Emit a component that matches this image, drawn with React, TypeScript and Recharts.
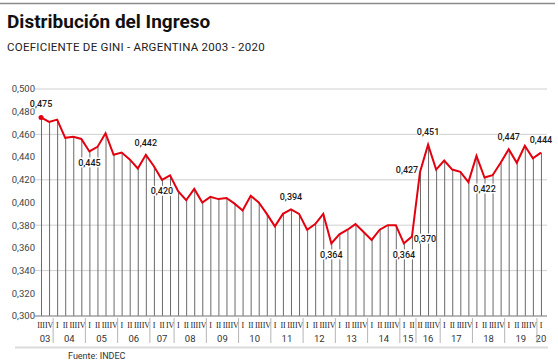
import { ComposedChart, Line, Bar, XAxis, YAxis, CartesianGrid, LabelList } from 'recharts';

// años y trimestres publicados (faltan 2007 III y 2015 III - 2016 I)
const yearLabels = ['03', '04', '05', '06', '07', '08', '09', '10', '11', '12', '13', '14', '15', '16', '17', '18', '19', '20'];
const quartersByYear = [
  ['III', 'IV'],
  ['I', 'II', 'III', 'IV'],
  ['I', 'II', 'III', 'IV'],
  ['I', 'II', 'III', 'IV'],
  ['I', 'II', 'IV'],
  ['I', 'II', 'III', 'IV'],
  ['I', 'II', 'III', 'IV'],
  ['I', 'II', 'III', 'IV'],
  ['I', 'II', 'III', 'IV'],
  ['I', 'II', 'III', 'IV'],
  ['I', 'II', 'III', 'IV'],
  ['I', 'II', 'III', 'IV'],
  ['I', 'II'],
  ['II', 'III', 'IV'],
  ['I', 'II', 'III', 'IV'],
  ['I', 'II', 'III', 'IV'],
  ['I', 'II', 'III', 'IV'],
  ['I'],
];

const gini = [
  0.475, 0.471,
  0.473, 0.457, 0.458, 0.456,
  0.445, 0.449, 0.461, 0.442,
  0.444, 0.438, 0.430, 0.442,
  0.432, 0.420, 0.424,
  0.410, 0.402, 0.412, 0.400,
  0.405, 0.403, 0.404, 0.399,
  0.393, 0.406, 0.400, 0.390,
  0.379, 0.390, 0.394, 0.390,
  0.376, 0.381, 0.390, 0.364,
  0.372, 0.376, 0.381, 0.374,
  0.367, 0.376, 0.380, 0.380,
  0.364, 0.370,
  0.427, 0.451, 0.429,
  0.437, 0.429, 0.427, 0.418,
  0.441, 0.422, 0.424, 0.435,
  0.447, 0.435, 0.450, 0.439,
  0.444,
];

const yTicks = [0.3, 0.32, 0.34, 0.36, 0.38, 0.4, 0.42, 0.44, 0.46, 0.48, 0.5];

// puntos con etiqueta y de qué lado va
const labelPos: Record<number, string> = {
  0: 'top', 6: 'bottom', 13: 'top', 15: 'bottom', 31: 'top', 36: 'bottom',
  45: 'bottom', 46: 'right', 47: 'left', 48: 'top', 55: 'bottom', 58: 'top', 62: 'top',
};

const years: string[] = [];
const quarters: string[] = [];
quartersByYear.forEach((qs, i) => qs.forEach(q => { years.push(yearLabels[i]); quarters.push(q); }));

const data = gini.map((v, i) => ({ key: `${years[i]}-${quarters[i]}`, year: years[i], q: quarters[i], gini: v }));

const W = 558;
const H = 364;
const PLOT_LEFT = 35;
const PLOT_RIGHT = 547;
const PAD = 2;
const BAND = (PLOT_RIGHT - PLOT_LEFT - 2 * PAD) / data.length;
const RED = '#e3000f';
const SANS = 'Roboto, "Noto Sans", sans-serif';

const fmt = (v: number) => v.toFixed(3).replace('.', ',');

const QuarterTick = (props: any) => {
  const { x, y, payload } = props;
  const i = payload.index;
  const d = data[i];
  const first = i === 0 || data[i - 1].year !== d.year;
  const count = years.filter(yy => yy === d.year).length;
  return (
    <g>
      <text x={x} y={y + 11.5} textAnchor="middle" fontSize={8} fontFamily='"Liberation Serif", serif' fill="#222" letterSpacing={-0.2}>
        {d.q}
      </text>
      {first && (
        <text x={x + ((count - 1) * BAND) / 2} y={y + 25.5} textAnchor="middle" fontSize={9.5} fontFamily={SANS} fill="#333">
          {d.year}
        </text>
      )}
      {first && i > 0 && (
        <line x1={x - BAND / 2} x2={x - BAND / 2} y1={y + 2} y2={y + 27} stroke="#b5b5b5" strokeWidth={1} />
      )}
    </g>
  );
};

const PointLabel = (props: any) => {
  const { x, y, value, index } = props;
  const pos = labelPos[index];
  if (!pos) return null;
  let cx = x;
  let cy = y;
  if (pos === 'top') cy = y - 12.5;
  if (pos === 'bottom') cy = y + 11;
  if (pos === 'left') { cx = x - 13; cy = y - 2; }
  if (pos === 'right') { cx = x + 13; cy = y + 2; }
  if (index === 0) cy = y - 14;
  return (
    <g>
      <rect x={cx - 11} y={cy - 5} width={22} height={10} fill="#fff" />
      <text x={cx} y={cy + 3.3} textAnchor="middle" fontSize={9} fontWeight={500} fontFamily={SANS} fill="#1a1a1a">
        {fmt(value)}
      </text>
    </g>
  );
};

const FirstDot = (props: any) => {
  const { cx, cy, index } = props;
  if (index !== 0) return <g key={index} />;
  return <circle key={index} cx={cx} cy={cy} r={2.5} fill={RED} />;
};

export default function App() {
  return (
    <div style={{ position: 'absolute', left: 0, top: 0, width: W, height: H, background: '#fff' }}>
      <svg width={W} height={H} style={{ position: 'absolute', left: 0, top: 0 }}>
        <line x1={0} x2={555} y1={3.5} y2={3.5} stroke="#8a8a8a" strokeWidth={1.5} />
        <text x={7} y={27.5} fontSize={19} fontWeight={700} fontFamily={SANS} fill="#111">
          Distribución del Ingreso
        </text>
        <text x={7} y={51} fontSize={11.5} fontFamily={SANS} fill="#222" letterSpacing={0.25}>
          COEFICIENTE DE GINI - ARGENTINA 2003 - 2020
        </text>
        <line x1={15} x2={548} y1={347.5} y2={347.5} stroke="#dcdcdc" strokeWidth={2} />
        <text x={68} y={359} fontSize={9} fontFamily={SANS} fill="#333">
          Fuente: INDEC
        </text>
      </svg>
      <div style={{ position: 'absolute', left: 0, top: 0 }}>
        <ComposedChart
          width={W}
          height={H}
          data={data}
          margin={{ top: 89, right: W - PLOT_RIGHT, left: PLOT_LEFT - 28, bottom: 18 }}
        >
          <CartesianGrid vertical={false} stroke="#cfcfcf" />
          <XAxis
            dataKey="key"
            interval={0}
            tick={<QuarterTick />}
            tickLine={false}
            tickSize={0}
            tickMargin={0}
            axisLine={{ stroke: '#8a8a8a' }}
            height={30}
            padding={{ left: PAD, right: PAD }}
          />
          <YAxis
            domain={[0.3, 0.5]}
            ticks={yTicks}
            tickFormatter={fmt}
            width={28}
            tickLine={false}
            tickSize={0}
            tickMargin={0}
            axisLine={false}
            tick={{ fontSize: 9.5, fill: '#444', fontFamily: SANS }}
          />
          <Bar dataKey="gini" barSize={1} fill="#6a6a6a" isAnimationActive={false} />
          <Line
            dataKey="gini"
            type="linear"
            stroke={RED}
            strokeWidth={2}
            dot={FirstDot}
            activeDot={false}
            isAnimationActive={false}
          >
            <LabelList dataKey="gini" content={PointLabel} />
          </Line>
        </ComposedChart>
      </div>
    </div>
  );
}
